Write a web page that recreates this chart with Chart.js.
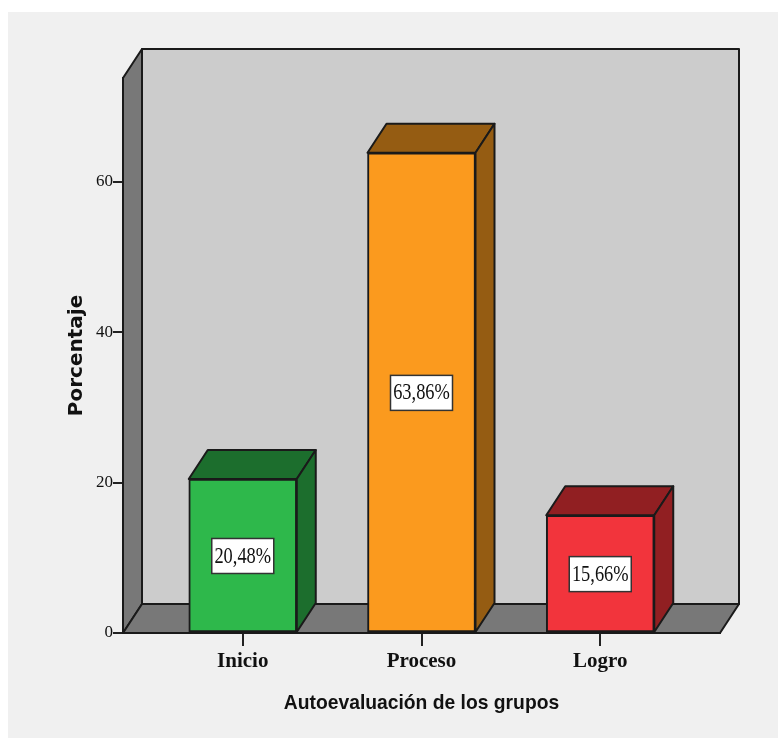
<!DOCTYPE html>
<html>
<head>
<meta charset="utf-8">
<title>Autoevaluación de los grupos</title>
<script src="https://cdn.jsdelivr.net/npm/chart.js@4"></script>
<style>
html, body { margin: 0; padding: 0; background: #fff; }
canvas { display: block; }
</style>
</head>
<body>
<canvas id="cht_grupos" width="778" height="738"></canvas>
<script>
"use strict";

var categories = ["Inicio", "Proceso", "Logro"];
var porcentajes = [20.48, 63.86, 15.66];
var yTicks = [0, 20, 40, 60];
var frontColors = ["#2eb84b", "#fb9a1e", "#f2343c"];
var darkColors = ["#1c6e2d", "#955c12", "#911f22"];

var depthX = 19;
var depthY = 29;
var lineColor = "#1a1a1a";

function poly(ctx, pts, fill) {
	ctx.beginPath();
	ctx.moveTo(pts[0][0], pts[0][1]);
	for (var i = 1; i < pts.length; i++) ctx.lineTo(pts[i][0], pts[i][1]);
	ctx.closePath();
	ctx.fillStyle = fill;
	ctx.fill();
	ctx.lineWidth = 2;
	ctx.lineJoin = "round";
	ctx.strokeStyle = lineColor;
	ctx.stroke();
}

var box3d = {
	id: "box3d",
	beforeDraw: function (chart) {
		var ctx = chart.ctx;
		var a = chart.chartArea;
		ctx.save();
		// panel behind the chart
		ctx.fillStyle = "#f0f0f0";
		ctx.fillRect(8, 12, 770, 726);
		// back wall, left wall, floor
		poly(ctx, [[a.left + depthX, a.top - depthY], [a.right + depthX, a.top - depthY], [a.right + depthX, a.bottom - depthY], [a.left + depthX, a.bottom - depthY]], "#cccccc");
		poly(ctx, [[a.left, a.top], [a.left + depthX, a.top - depthY], [a.left + depthX, a.bottom - depthY], [a.left, a.bottom]], "#787878");
		poly(ctx, [[a.left, a.bottom], [a.left + depthX, a.bottom - depthY], [a.right + depthX, a.bottom - depthY], [a.right, a.bottom]], "#787878");
		ctx.restore();
	},
	beforeDatasetsDraw: function (chart) {
		var ctx = chart.ctx;
		var bars = chart.getDatasetMeta(0).data;
		ctx.save();
		for (var i = 0; i < bars.length; i++) {
			var p = bars[i].getProps(["x", "y", "base", "width"], true);
			var l = p.x - p.width / 2;
			var r = p.x + p.width / 2;
			poly(ctx, [[l, p.y], [l + depthX, p.y - depthY], [r + depthX, p.y - depthY], [r, p.y]], darkColors[i]);
			poly(ctx, [[r, p.y], [r + depthX, p.y - depthY], [r + depthX, p.base - depthY], [r, p.base]], darkColors[i]);
		}
		ctx.restore();
	},
	afterDatasetsDraw: function (chart) {
		var ctx = chart.ctx;
		var bars = chart.getDatasetMeta(0).data;
		ctx.save();
		for (var i = 0; i < bars.length; i++) {
			var p = bars[i].getProps(["x", "y", "base"], true);
			var cy = (p.y + p.base) / 2;
			var txt = porcentajes[i].toFixed(2).replace(".", ",") + "%";
			ctx.fillStyle = "#fff";
			ctx.strokeStyle = "#333";
			ctx.lineWidth = 1.5;
			ctx.fillRect(p.x - 31, cy - 17, 62, 35);
			ctx.strokeRect(p.x - 31, cy - 17, 62, 35);
			// label text is tall and narrow in the original
			ctx.translate(p.x, cy);
			ctx.scale(0.8, 1);
			ctx.fillStyle = "#111";
			ctx.font = "23px 'Liberation Serif'";
			ctx.textAlign = "center";
			ctx.textBaseline = "middle";
			ctx.fillText(txt, 0, 1);
			ctx.setTransform(1, 0, 0, 1, 0, 0);
		}
		ctx.restore();
	}
};

new Chart(document.getElementById("cht_grupos").getContext("2d"), {
	type: "bar",
	plugins: [box3d],
	data: {
		datasets: [{
			data: categories.map(function (c, i) { return { x: i, y: porcentajes[i] }; }),
			backgroundColor: frontColors,
			borderColor: lineColor,
			borderWidth: 2,
			borderSkipped: false,
			barThickness: 108
		}]
	},
	options: {
		responsive: false,
		animation: false,
		layout: { padding: { top: 78, right: 58, left: 0, bottom: 0 } },
		plugins: { legend: { display: false }, tooltip: { enabled: false } },
		scales: {
			x: {
				type: "linear",
				offset: false,
				min: -0.67,
				max: 2.67,
				afterBuildTicks: function (scale) {
					scale.ticks = categories.map(function (c, i) { return { value: i }; });
				},
				afterFit: function (scale) { scale.height = 105; },
				grid: { offset: false, drawOnChartArea: false, color: "#222", lineWidth: 2, tickLength: 13 },
				border: { color: lineColor, width: 2 },
				ticks: {
					autoSkip: false,
					maxRotation: 0,
					padding: 3,
					color: "#111",
					font: { family: "'Liberation Serif'", size: 21, weight: "bold" },
					callback: function (v) { return categories[v]; }
				},
				title: {
					display: true,
					text: "Autoevaluación de los grupos",
					color: "#111",
					padding: { top: 0, bottom: 23 },
					font: { family: "'Liberation Sans'", size: 19.3, weight: "bold" }
				}
			},
			y: {
				min: 0,
				max: 73.8,
				afterBuildTicks: function (scale) {
					scale.ticks = yTicks.map(function (v) { return { value: v }; });
				},
				afterFit: function (scale) { scale.width = 123; },
				grid: { drawOnChartArea: false, color: "#222", lineWidth: 2, tickLength: 10 },
				border: { color: lineColor, width: 2 },
				ticks: {
					padding: 0,
					color: "#111",
					font: { family: "'Liberation Serif'", size: 17 }
				},
				title: {
					display: true,
					text: "Porcentaje",
					color: "#111",
					padding: { top: 65, bottom: 0 },
					font: { family: "'DejaVu Sans'", size: 20, weight: "bold" }
				}
			}
		}
	}
});
</script>
</body>
</html>
